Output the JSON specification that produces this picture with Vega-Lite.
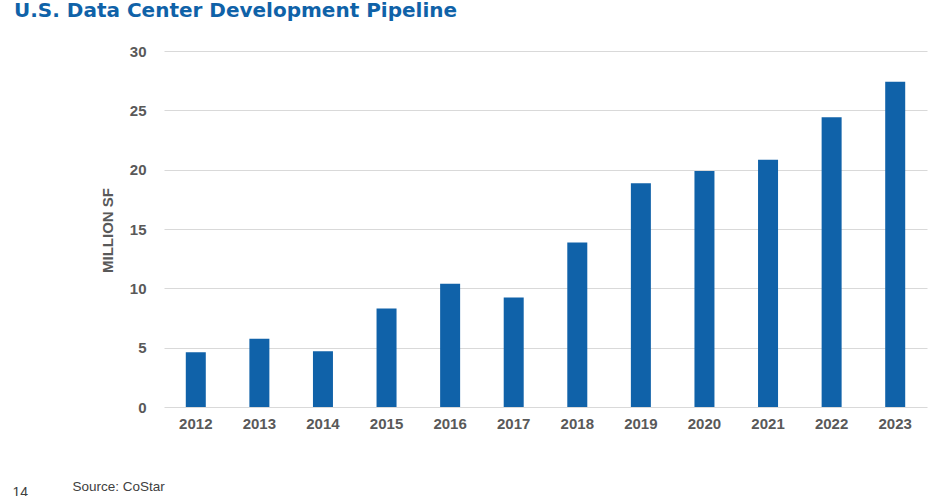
{
  "$schema": "https://vega.github.io/schema/vega-lite/v6.json",
  "width": 763,
  "height": 356,
  "autosize": "none",
  "padding": {"left": 164, "top": 51, "right": 24, "bottom": 89},
  "background": "white",
  "title": {
    "text": "U.S. Data Center Development Pipeline",
    "anchor": "start",
    "frame": "group",
    "dx": -150,
    "offset": 7,
    "baseline": "alphabetic",
    "font": "DejaVu Sans",
    "fontSize": 20,
    "fontWeight": "bold",
    "color": "#0f62a8"
  },
  "config": {
    "view": {"stroke": null},
    "axis": {"labelFont": "Liberation Sans", "titleFont": "Liberation Sans"}
  },
  "data": {
    "values": [
      {"year": "2012", "value": 4.62},
      {"year": "2013", "value": 5.75},
      {"year": "2014", "value": 4.7},
      {"year": "2015", "value": 8.3},
      {"year": "2016", "value": 10.38},
      {"year": "2017", "value": 9.22},
      {"year": "2018", "value": 13.86},
      {"year": "2019", "value": 18.86},
      {"year": "2020", "value": 19.88},
      {"year": "2021", "value": 20.83},
      {"year": "2022", "value": 24.41},
      {"year": "2023", "value": 27.4}
    ]
  },
  "layer": [
    {
      "mark": {"type": "bar", "size": 20, "color": "#1062a9"},
      "encoding": {
        "x": {
          "field": "year",
          "type": "nominal",
          "scale": {"paddingInner": 0, "paddingOuter": 0},
          "axis": {
            "title": "Source: CoStar",
            "titleX": -92,
            "titleY": 83,
            "titleAnchor": "start",
            "titleAlign": "left",
            "titleBaseline": "alphabetic",
            "titleFontSize": 13.5,
            "titleFontWeight": "normal",
            "titleColor": "#404040",
            "labelAngle": 0,
            "labelFontSize": 15,
            "labelFontWeight": "bold",
            "labelColor": "#595959",
            "labelPadding": 9,
            "ticks": false,
            "domain": false
          }
        },
        "y": {
          "field": "value",
          "type": "quantitative",
          "scale": {"domain": [0, 30], "nice": false},
          "axis": {
            "title": "MILLION SF",
            "titleX": -57,
            "titleY": 179,
            "titleAngle": -90,
            "titleAlign": "center",
            "titleBaseline": "middle",
            "titleFontSize": 15,
            "titleFontWeight": "bold",
            "titleColor": "#595959",
            "values": [0, 5, 10, 15, 20, 25, 30],
            "labelFontSize": 15,
            "labelFontWeight": "bold",
            "labelColor": "#595959",
            "labelPadding": 18,
            "ticks": false,
            "domain": false,
            "grid": true,
            "gridColor": "#d9d9d9",
            "gridWidth": 1.2
          }
        }
      }
    },
    {
      "mark": {"type": "rule", "opacity": 0},
      "encoding": {
        "y": {
          "datum": 0,
          "type": "quantitative",
          "axis": {
            "orient": "right",
            "title": "14",
            "titleX": -915,
            "titleY": 434,
            "titleAngle": 0,
            "titleAlign": "left",
            "titleBaseline": "top",
            "titleFontSize": 14,
            "titleFontWeight": "normal",
            "titleColor": "#404040",
            "labels": false,
            "ticks": false,
            "domain": false,
            "grid": false
          }
        }
      }
    }
  ],
  "resolve": {"scale": {"y": "independent"}, "axis": {"y": "independent"}}
}
